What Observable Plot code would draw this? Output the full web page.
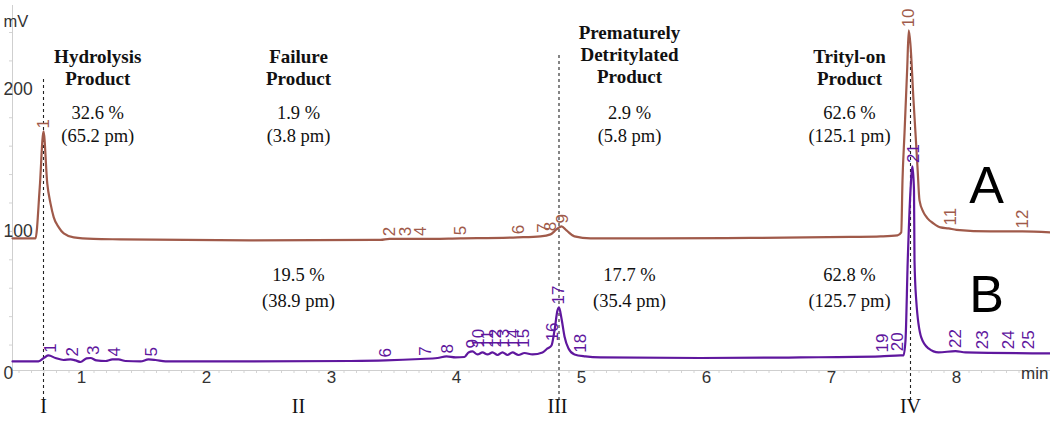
<!DOCTYPE html>
<html>
<head>
<meta charset="utf-8">
<script src="https://cdn.jsdelivr.net/npm/d3@7"></script>
<script src="https://cdn.jsdelivr.net/npm/@observablehq/plot@0.6"></script>
<style>
  html, body { margin: 0; padding: 0; background: #fff; }
  #chart svg { display: block; }
</style>
</head>
<body>
<div id="chart"></div>
<script>
// ---- Data (time in min, signal in mV) ----
const traceA = [
  [0.448, 95.1], [0.632, 95.1], [0.666, 131.0], [0.696, 170.4], [0.726, 133.8],
  [0.752, 119.7], [0.778, 109.9], [0.818, 102.8], [0.858, 98.6], [0.938, 95.8],
  [1.096, 94.7], [1.312, 94.4], [2.352, 93.7], [3.392, 94.0], [3.464, 94.7],
  [3.712, 94.7], [4.032, 95.1], [4.488, 95.8], [4.672, 96.5], [4.752, 97.9],
  [4.8, 101.4], [4.84, 103.5], [4.88, 100.7], [4.944, 96.5], [5.072, 95.1],
  [5.552, 95.1], [6.352, 95.4], [7.152, 96.1], [7.392, 96.5], [7.528, 97.2],
  [7.558, 99.3], [7.568, 135.9], [7.584, 169.0], [7.606, 215.5], [7.618, 241.5],
  [7.632, 231.0], [7.656, 192.3], [7.672, 169.0], [7.688, 145.1], [7.704, 121.8],
  [7.736, 113.4], [7.768, 109.2], [7.816, 105.6], [7.872, 102.8], [7.936, 102.1],
  [8.0, 101.1], [8.272, 100.0], [8.528, 100.0], [8.752, 99.3]
];
const traceB = [
  [0.448, 8.5], [0.656, 8.5], [0.704, 11.3], [0.736, 12.7], [0.792, 10.9],
  [0.856, 9.5], [0.912, 9.9], [0.952, 9.2], [0.992, 8.1], [1.04, 10.6],
  [1.072, 10.9], [1.12, 9.2], [1.192, 8.8], [1.248, 9.9], [1.296, 9.9],
  [1.352, 8.8], [1.472, 8.5], [1.536, 9.9], [1.592, 9.5], [1.672, 8.5],
  [2.352, 8.5], [3.152, 8.8], [3.432, 9.2], [3.712, 10.2], [3.848, 10.9],
  [3.92, 12.0], [3.992, 11.3], [4.064, 11.6], [4.096, 14.8], [4.128, 15.5],
  [4.168, 13.4], [4.208, 14.8], [4.248, 13.4], [4.288, 14.8], [4.328, 13.0],
  [4.368, 14.8], [4.408, 13.0], [4.448, 14.8], [4.496, 13.0], [4.544, 14.4],
  [4.608, 13.4], [4.688, 14.8], [4.728, 17.6], [4.76, 19.7], [4.784, 30.3],
  [4.808, 44.4], [4.82, 46.5], [4.84, 38.7], [4.864, 26.1], [4.896, 17.6],
  [4.944, 13.4], [5.032, 12.0], [5.152, 11.3], [5.952, 10.9], [6.752, 11.3],
  [7.392, 12.0], [7.552, 12.7], [7.576, 12.7], [7.592, 23.2], [7.61, 79.6],
  [7.632, 128.9], [7.648, 145.8], [7.66, 128.9], [7.664, 79.6], [7.678, 51.4],
  [7.718, 25.4], [7.776, 17.6], [7.856, 14.8], [7.992, 15.8], [8.072, 14.8],
  [8.752, 14.1]
];
// peak labels: [label, time, signal at peak]
const peaksA = [
  ["1", 0.696, 170.4], ["2", 3.464, 94.5], ["3", 3.592, 94.5], ["4", 3.712, 94.7],
  ["5", 4.032, 95.1], ["6", 4.496, 95.8], ["7", 4.694, 97.0], ["8", 4.752, 98.0],
  ["9", 4.848, 103.5], ["10", 7.618, 241.5], ["11", 7.952, 102.1], ["12", 8.528, 100.0]
];
const peaksB = [
  ["1", 0.752, 12.5], ["2", 0.928, 9.9], ["3", 1.096, 10.9], ["4", 1.264, 9.9],
  ["5", 1.56, 9.9], ["6", 3.432, 9.2], ["7", 3.752, 10.4], ["8", 3.928, 12.0],
  ["9", 4.128, 15.5], ["10", 4.176, 16.0], ["11", 4.248, 16.0], ["12", 4.312, 16.0],
  ["13", 4.376, 16.0], ["14", 4.456, 16.0], ["15", 4.536, 16.0], ["16", 4.768, 20.5],
  ["17", 4.82, 46.5], ["18", 4.992, 12.5], ["19", 7.408, 12.7], ["20", 7.528, 13.5],
  ["21", 7.656, 146.0], ["22", 7.992, 15.8], ["23", 8.208, 15.0], ["24", 8.416, 15.0],
  ["25", 8.576, 15.0]
];
// regions
const regionTimes = [1.13, 2.736, 5.384, 7.144];
const regionNames = ["Hydrolysis\nProduct", "Failure\nProduct", "Prematurely\nDetritylated\nProduct", "Trityl-on\nProduct"];
const percentA = ["32.6 %", "1.9 %", "2.9 %", "62.6 %"];
const amountA = ["(65.2 pm)", "(3.8 pm)", "(5.8 pm)", "(125.1 pm)"];
const percentB = [null, "19.5 %", "17.7 %", "62.8 %"];
const amountB = [null, "(38.9 pm)", "(35.4 pm)", "(125.7 pm)"];
const romanLabels = ["I", "II", "III", "IV"];
const romanTimes = [0.696, 2.736, 4.808, 7.632];
const markerTimes = [0.696, 4.82, 7.632];
const markerTops = [208.5, 224, 227];
const traceNames = ["A", "B"];
const traceNameLevels = [132, 55];
const xTicks = [1, 2, 3, 4, 5, 6, 7, 8];
const yTicks = [0, 100, 200];

// ---- Build ----
const colorA = "#a05a4a";
const colorB = "#5f179e";
const serif = "'Liberation Serif', 'Times New Roman', serif";
const sans = "'Liberation Sans', Arial, sans-serif";
const xDomain = [0.448, 8.752];
const yDomain = [2.1, 259];

const rowsA = traceA.map(([t, v]) => ({t, v}));
const rowsB = traceB.map(([t, v]) => ({t, v}));
const labA = peaksA.map(([s, t, v]) => ({s, t, v}));
const labB = peaksB.map(([s, t, v]) => ({s, t, v}));
const regions = regionTimes.map((t, i) => ({
  t, name: regionNames[i], pa: percentA[i] + "\n" + amountA[i],
  pb: percentB[i] ? percentB[i] + "\n" + amountB[i] : null,
  lines: regionNames[i].split("\n").length
}));
const romans = romanLabels.map((s, i) => ({s, t: romanTimes[i]}));
const markers = markerTimes.map((t, i) => ({t, top: markerTops[i]}));
const names = traceNames.map((s, i) => ({s, v: traceNameLevels[i]}));
const minorX = d3.range(0.5, 8.76, 0.1);
const minorY = d3.range(20, 259, 20);

const chart = Plot.plot({
  width: 1050,
  height: 422,
  marginLeft: 12,
  marginRight: 0,
  marginTop: 5,
  marginBottom: 52,
  x: {domain: xDomain, label: null},
  y: {domain: yDomain, label: null},
  style: {fontFamily: sans, fontSize: "17px", color: "#333", background: "#fff", overflow: "visible"},
  marks: [
    Plot.axisX({ticks: minorX, tickSize: 3, tickFormat: () => "", stroke: "#d4d4d4", label: null}),
    Plot.axisY({ticks: minorY, tickSize: 3, tickFormat: () => "", stroke: "#d4d4d4", label: null}),
    Plot.ruleY([yDomain[0]], {stroke: "#cfcfcf"}),
    Plot.ruleX([xDomain[0]], {stroke: "#cfcfcf"}),
    Plot.axisX({ticks: xTicks, tickSize: 0, tickPadding: 0, fontSize: 17, fill: "#333", tickFormat: d => String(d), label: null}),
    Plot.text(yTicks, {x: xDomain[0], y: d => d, text: d => String(d), textAnchor: "start", dx: -9, fontSize: 17.5, fill: "#333"}),
    Plot.text(["mV"], {frameAnchor: "top-left", textAnchor: "start", dx: -9, dy: 10, fontSize: 16.5, fill: "#333"}),
    Plot.text(["min"], {frameAnchor: "bottom-right", textAnchor: "end", dx: -2, dy: 8, fontSize: 17, fill: "#333"}),
    // dashed markers
    Plot.ruleX(markers, {x: "t", y1: -19, y2: "top", stroke: "#222", strokeWidth: 1.1, strokeDasharray: "3,3"}),
    Plot.text(romans, {x: "t", frameAnchor: "bottom", dy: 42, text: "s", fontFamily: serif, fontSize: 20, fill: "#111"}),
    // traces
    Plot.line(rowsA, {x: "t", y: "v", stroke: colorA, strokeWidth: 2.2, curve: "monotone-x"}),
    Plot.line(rowsB, {x: "t", y: "v", stroke: colorB, strokeWidth: 2.2, curve: "monotone-x"}),
    // peak labels
    Plot.text(labA, {x: "t", y: "v", text: "s", rotate: -90, textAnchor: "start", lineAnchor: "middle", dy: -3, fontSize: 17, fill: colorA}),
    Plot.text(labB, {x: "t", y: "v", text: "s", rotate: -90, textAnchor: "start", lineAnchor: "middle", dy: -3, fontSize: 17, fill: colorB}),
    // region annotations
    Plot.text(regions, {x: "t", y: d => d.lines === 3 ? 225 : 216, text: "name", fontFamily: serif, fontWeight: "bold", fontSize: 19, lineHeight: 1.15, fill: "#111"}),
    Plot.text(regions, {x: "t", y: 176, text: "pa", fontFamily: serif, fontSize: 18.5, lineHeight: 1.2, fill: "#111"}),
    Plot.text(regions.filter(d => d.pb), {x: "t", y: 62, text: "pb", fontFamily: serif, fontSize: 18.5, lineHeight: 1.4, fill: "#111"}),
    // trace names
    Plot.text(names, {x: 8.24, y: "v", text: "s", fontSize: 52, fill: "#000"})
  ]
});
document.getElementById("chart").appendChild(chart);
</script>
</body>
</html>
